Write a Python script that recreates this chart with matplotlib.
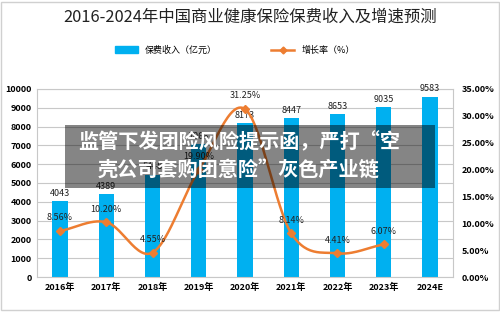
import numpy as np
import matplotlib
matplotlib.use("Agg")
import matplotlib.pyplot as plt
from matplotlib.patches import Rectangle
from matplotlib.lines import Line2D
from matplotlib.patches import Patch

plt.rcParams['font.family'] = ['Noto Sans CJK SC', 'DejaVu Sans']

# Data
years = ['2016年', '2017年', '2018年', '2019年', '2020年', '2021年', '2022年', '2023年', '2024E']
premium = [4043, 4389, 5448, 7066, 8173, 8447, 8653, 9035, 9583]
growth = [8.56, 10.20, 4.55, 19.90, 31.25, 8.14, 4.41, 6.07]

BLUE = '#00B0F0'
ORANGE = '#ED7D31'


def catmull_rom(x, y, n=30):
    # smooth curve through the points, like Excel's smoothed line
    x = np.asarray(x, float)
    y = np.asarray(y, float)
    px = np.concatenate([[2 * x[0] - x[1]], x, [2 * x[-1] - x[-2]]])
    py = np.concatenate([[2 * y[0] - y[1]], y, [2 * y[-1] - y[-2]]])
    xs, ys = [], []
    t = np.linspace(0, 1, n)
    for i in range(1, len(px) - 2):
        for p, out in ((px, xs), (py, ys)):
            p0, p1, p2, p3 = p[i - 1], p[i], p[i + 1], p[i + 2]
            out.extend(0.5 * ((2 * p1) + (-p0 + p2) * t
                              + (2 * p0 - 5 * p1 + 4 * p2 - p3) * t ** 2
                              + (-p0 + 3 * p1 - 3 * p2 + p3) * t ** 3))
    return np.array(xs), np.array(ys)


fig = plt.figure(figsize=(5, 3.13), dpi=100)
ax = fig.add_axes([0.074, 0.115, 0.832, 0.601])
ax2 = ax.twinx()

x = np.arange(len(years))
ax.bar(x, premium, width=0.33, color=BLUE, zorder=2)
for xi, v in zip(x, premium):
    ax.text(xi, v + 180, str(v), ha='center', va='bottom', fontsize=6.5, color='#222222')

ax.set_ylim(0, 10000)
ax.set_yticks(range(0, 10001, 1000))
ax.set_xlim(-0.5, len(years) - 0.5)
ax.set_xticks(x)
ax.set_xticklabels(years, fontsize=6.5, fontweight='bold')
ax.tick_params(axis='both', length=0, pad=4)
for lbl in ax.get_yticklabels():
    lbl.set_fontsize(6.5)
    lbl.set_fontweight('bold')
ax.yaxis.grid(True, color='#c8c8c8', linewidth=0.8, zorder=0)
ax.set_axisbelow(True)
for sp in ax.spines.values():
    sp.set_color('#c8c8c8')
    sp.set_linewidth(0.8)

gx = np.arange(len(growth))
sx, sy = catmull_rom(gx, growth)
ax2.plot(sx, sy, color=ORANGE, linewidth=1.8, zorder=3)
ax2.plot(gx, growth, 'D', color=ORANGE, markersize=4, zorder=4)
for xi, v in zip(gx, growth):
    ax2.text(xi, v + 1.6, '%.2f%%' % v, ha='center', va='bottom', fontsize=6.5, color='#222222')
ax2.set_ylim(0, 35)
ax2.set_yticks(range(0, 36, 5))
ax2.set_yticklabels(['%.2f%%' % v for v in range(0, 36, 5)], fontsize=6.5, fontweight='bold')
ax2.tick_params(axis='y', length=0, pad=6)
for sp in ax2.spines.values():
    sp.set_visible(False)

fig.text(0.5, 0.945, '2016-2024年中国商业健康保险保费收入及增速预测', ha='center', va='center',
         fontsize=11.8, color='#222222')

handles = [Patch(color=BLUE), Line2D([0], [0], color=ORANGE, marker='D', markersize=3.5, linewidth=1.8)]
fig.legend(handles, ['保费收入（亿元）', '增长率（%）'], loc='center', bbox_to_anchor=(0.47, 0.84),
           ncol=2, frameon=False, fontsize=6.5, columnspacing=6, handlelength=2.5)

# frame around the whole picture
fig.patches.append(Rectangle((0.002, 0.01), 0.996, 0.985, transform=fig.transFigure,
                             fill=False, edgecolor='#d0d0d0', linewidth=1))

# dark caption band over the chart
fig.patches.append(Rectangle((65 / 500, 1 - 188 / 313), 370 / 500, 63 / 313, transform=fig.transFigure,
                             facecolor='black', alpha=0.48, edgecolor='none', zorder=10))
fig.text(239 / 500, 1 - 142 / 313, '监管下发团险风险提示函，严打“空', ha='center', va='center',
         fontsize=14.5, color='white', fontweight='heavy', zorder=11)
fig.text(239 / 500, 1 - 169 / 313, '壳公司套购团意险”灰色产业链', ha='center', va='center',
         fontsize=14.5, color='white', fontweight='heavy', zorder=11)

fig.savefig('out.png', dpi=100)
